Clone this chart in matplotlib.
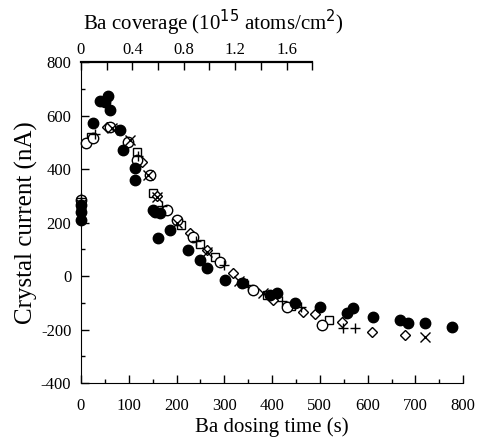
import matplotlib.pyplot as plt
from matplotlib.ticker import MultipleLocator

plt.rcParams['font.family'] = ['Liberation Serif', 'DejaVu Serif']
plt.rcParams['axes.unicode_minus'] = False

# filled circles
t_fill = [0, 0, 0, 25, 40, 50, 57, 60, 82, 88, 113, 113, 151, 155, 162, 165, 186,
          224, 249, 263, 302, 337, 396, 410, 448, 500, 557, 570, 612, 668, 685, 720, 777]
i_fill = [210, 240, 265, 572, 655, 650, 673, 620, 546, 471, 404, 359, 247, 240, 142, 235, 172,
          97, 60, 30, -15, -26, -71, -64, -101, -116, -138, -120, -153, -164, -176, -176, -190]

# open circles
t_circ = [0, 10, 25, 61, 98, 117, 144, 180, 201, 235, 291, 360, 431, 504]
i_circ = [285, 497, 516, 557, 501, 434, 378, 247, 209, 146, 52, -52, -116, -183]

# open diamonds
t_diam = [0, 54, 128, 159, 228, 263, 318, 402, 465, 490, 547, 609, 678]
i_diam = [275, 557, 426, 300, 160, 97, 11, -90, -134, -140, -172, -210, -222]

# x marks
t_x = [0, 65, 103, 140, 159, 201, 263, 330, 380, 720]
i_x = [270, 553, 508, 378, 295, 198, 90, -20, -65, -228]

# plus marks
t_plus = [0, 30, 75, 120, 170, 240, 300, 350, 420, 460, 549, 574]
i_plus = [290, 530, 545, 450, 260, 130, 40, -35, -95, -115, -195, -195]

# open squares
t_sq = [0, 20, 117, 150, 210, 250, 280, 340, 390, 440, 520]
i_sq = [280, 520, 464, 310, 190, 120, 70, -25, -70, -110, -165]

cov_ticks = [0, 0.4, 0.8, 1.2, 1.6]
cov_per_s = 1.8 / 484.0

fig = plt.figure(figsize=(4.82, 4.46), dpi=100)
ax = fig.add_axes([0.168, 0.141, 0.793, 0.72])

ax.plot(t_sq, i_sq, 's', mfc='white', mec='black', mew=1.0, ms=6, clip_on=False)
ax.plot(t_diam, i_diam, 'D', mfc='white', mec='black', mew=1.0, ms=5.5, clip_on=False)
ax.plot(t_circ, i_circ, 'o', mfc='white', mec='black', mew=1.0, ms=7.5, clip_on=False)
ax.plot(t_x, i_x, 'x', color='black', mew=1.0, ms=6.5, clip_on=False)
ax.plot(t_plus, i_plus, '+', color='black', mew=1.0, ms=6.5, clip_on=False)
ax.plot(t_fill, i_fill, 'o', color='black', ms=7.5, clip_on=False)

ax.set_xlim(0, 800)
ax.set_ylim(-400, 800)
ax.xaxis.set_major_locator(MultipleLocator(100))
ax.xaxis.set_minor_locator(MultipleLocator(50))
ax.yaxis.set_major_locator(MultipleLocator(200))
ax.yaxis.set_minor_locator(MultipleLocator(100))
ax.tick_params(which='both', direction='in', labelsize=12, width=1)
ax.tick_params(axis='x', pad=11)
ax.tick_params(axis='y', pad=7)
ax.tick_params(which='major', length=6)
ax.tick_params(which='minor', length=3)
ax.spines['right'].set_visible(False)
ax.spines['top'].set_visible(False)
ax.set_xlabel('Ba dosing time (s)', fontsize=15, labelpad=2)
ax.set_ylabel('Crystal current (nA)', fontsize=18, labelpad=2)

ax2 = ax.twiny()
ax2.set_xlim(0, 800 * cov_per_s)
ax2.spines['top'].set_bounds(0, 1.8)
ax2.spines['top'].set_linewidth(1.6)
for s in ['right', 'left', 'bottom']:
    ax2.spines[s].set_visible(False)
ax2.set_xticks([i * 0.2 for i in range(10)], minor=True)
ax2.set_xticks(cov_ticks)
ax2.set_xticklabels(['0', '0.4', '0.8', '1.2', '1.6'])
ax2.tick_params(which='both', direction='in', length=6, width=1, labelsize=12, pad=3)
ax2.set_xlabel('Ba coverage (10$^{15}$ atoms/cm$^2$)', fontsize=15)
ax2.xaxis.set_label_coords(0.345, 1.10)

fig.savefig('out.png', dpi=100)
